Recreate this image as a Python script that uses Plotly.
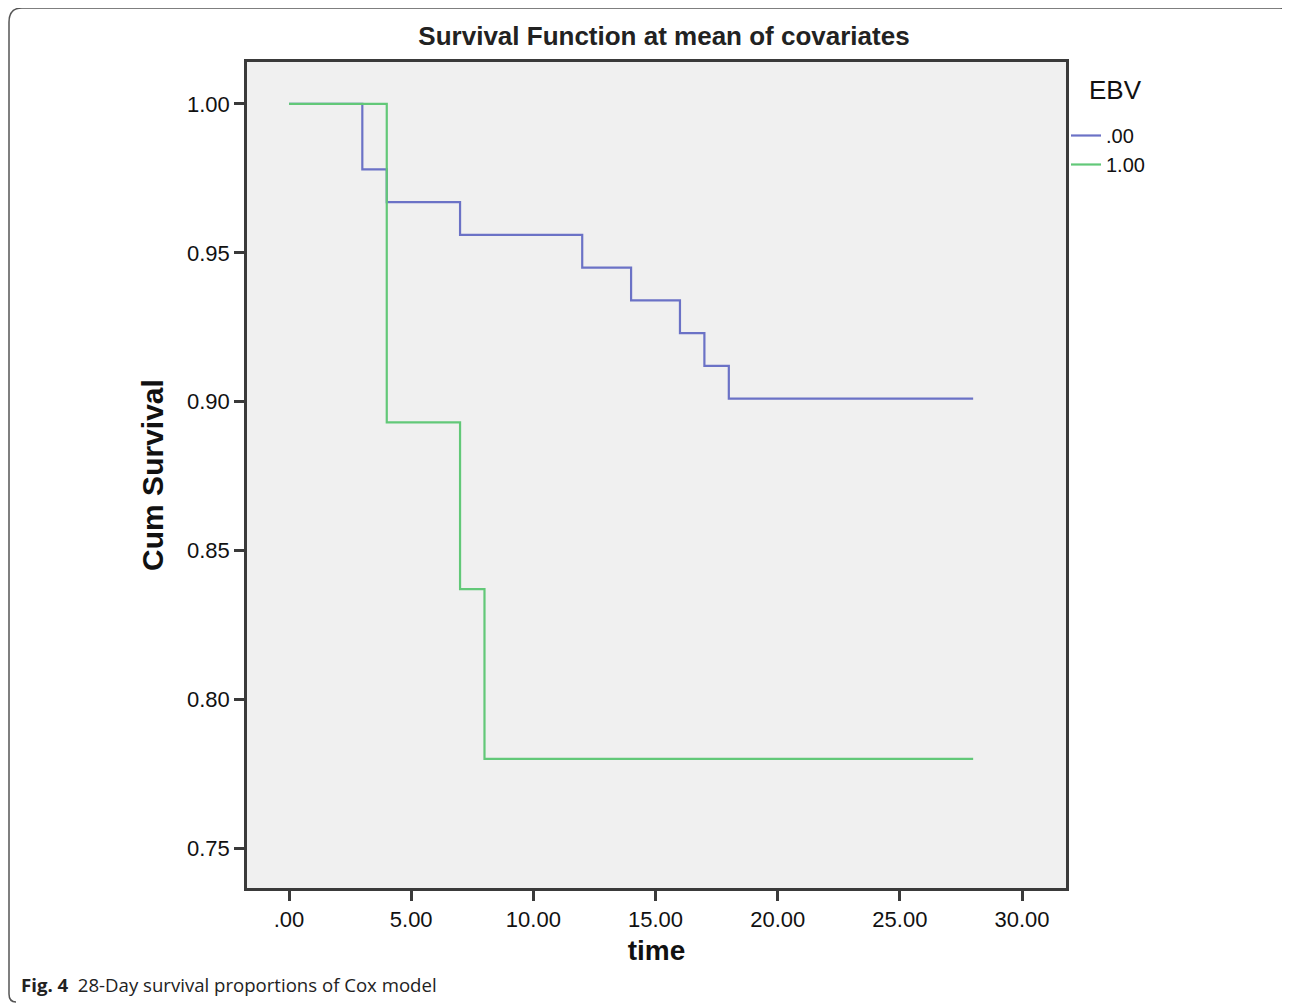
import plotly.graph_objects as go

# Data
time_ebv0 = [0, 3, 4, 7, 12, 14, 16, 17, 18, 28]
surv_ebv0 = [1.000, 0.978, 0.967, 0.956, 0.945, 0.934, 0.923, 0.912, 0.901, 0.901]
time_ebv1 = [0, 4, 7, 8, 28]
surv_ebv1 = [1.000, 0.893, 0.837, 0.780, 0.780]

x_tickvals = [0, 5, 10, 15, 20, 25, 30]
x_ticktext = [".00", "5.00", "10.00", "15.00", "20.00", "25.00", "30.00"]
y_tickvals = [0.75, 0.80, 0.85, 0.90, 0.95, 1.00]
y_ticktext = ["0.75", "0.80", "0.85", "0.90", "0.95", "1.00"]

OFF = 8  # page body margin offset
W, H = 1290 - OFF, 1004 - OFF
L, R, T, B = 247 - OFF, 1066 - OFF, 62 - OFF, 888 - OFF

def px(x):
    return (x - OFF - L) / (R - L)

def py(y):
    return (B - (y - OFF)) / (B - T)

fig = go.Figure()
fig.add_trace(go.Scatter(x=time_ebv0, y=surv_ebv0, mode="lines", line_shape="hv",
                         line=dict(color="#6b72c6", width=2.2), name=".00"))
fig.add_trace(go.Scatter(x=time_ebv1, y=surv_ebv1, mode="lines", line_shape="hv",
                         line=dict(color="#62c878", width=2.2), name="1.00"))

axis_common = dict(showline=True, mirror=True, linecolor="#3a3a3a", linewidth=2.5,
                   ticks="outside", ticklen=10, tickwidth=2.5, tickcolor="#3a3a3a",
                   showgrid=False, zeroline=False,
                   tickfont=dict(family="Liberation Sans, Arial", size=22, color="#111"))

fig.update_xaxes(range=[-1.72, 31.8], tickvals=x_tickvals, ticktext=x_ticktext,
                 title=dict(text="<b>time</b>", font=dict(family="Liberation Sans, Arial", size=28, color="#111"),
                            standoff=10),
                 **axis_common)
fig.update_yaxes(range=[0.7366, 1.0141], tickvals=y_tickvals, ticktext=y_ticktext,
                 title=dict(text="<b>Cum Survival</b>", font=dict(family="Liberation Sans, Arial", size=30, color="#111"),
                            standoff=15),
                 **axis_common)

border_path = (f"M {px(16)},{py(1002)} Q {px(9)},{py(1002)} {px(9)},{py(994)} "
               f"L {px(9)},{py(22)} Q {px(9)},{py(8)} {px(22)},{py(8)} "
               f"L {px(1280)},{py(8)} Q {px(1287)},{py(8)} {px(1289)},{py(14)}")

fig.update_layout(
    width=W, height=H,
    margin=dict(l=L, r=W - R, t=T, b=H - B),
    paper_bgcolor="white", plot_bgcolor="#f0f0f0",
    title=dict(text="<b>Survival Function at mean of covariates</b>", x=(664 - OFF) / W, xanchor="center",
               y=1 - (36 - OFF) / H, yanchor="middle",
               font=dict(family="Liberation Sans, Arial", size=26, color="#222")),
    legend=dict(x=px(1066), y=py(116), xanchor="left", yanchor="top",
                bgcolor="rgba(0,0,0,0)",
                font=dict(family="Liberation Sans, Arial", size=20, color="#111"),
                tracegroupgap=0, itemwidth=30),
    showlegend=True,
    shapes=[dict(type="path", xref="paper", yref="paper", path=border_path,
                 line=dict(color="#555", width=1.5))],
    annotations=[
        dict(text="EBV", xref="paper", yref="paper", x=px(1087), y=py(90),
             xanchor="left", yanchor="middle", showarrow=False,
             font=dict(family="Liberation Sans, Arial", size=26, color="#111")),
        dict(text="<b>Fig. 4</b>  28-Day survival proportions of Cox model",
             xref="paper", yref="paper", x=px(19), y=py(984), xanchor="left", yanchor="middle",
             showarrow=False,
             font=dict(family="Open Sans", size=18.6, color="#222"))],
)

fig.write_html("out.html")
